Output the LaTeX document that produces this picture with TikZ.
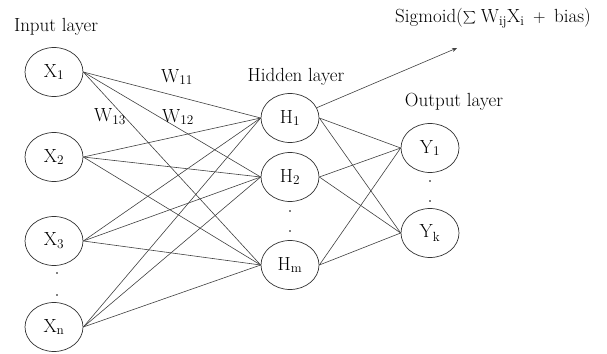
\documentclass[tikz,border=0pt]{standalone}
\usepackage{fontspec}
\usepackage{graphicx}
\usetikzlibrary{shapes.geometric,arrows.meta}
\begin{document}
\begin{tikzpicture}[x=1pt,y=-1pt,
  every node/.style={font=\fontsize{19}{22}\selectfont},
  neuron/.style={ellipse,draw=black!80,line width=0.7pt,inner sep=0pt,
                 minimum width=58pt,minimum height=49pt},
  link/.style={draw=black!75,line width=0.6pt},
  lbl/.style={inner sep=0pt},
  gap/.style={circle,fill=black,inner sep=0pt,minimum size=1.8pt}]
\useasboundingbox (0,0) rectangle (607,353);

% layer titles
\node[lbl] (tin)  at (56,27)  {Input layer};
\node[lbl] (thid) at (296,77) {Hidden layer};
\node[lbl] (tout) at (454,102) {Output layer};

% input layer
\node[neuron] (x1) at (54,72)  {$\mathrm{X_1}$};
\node[neuron] (x2) at (54,157) {$\mathrm{X_2}$};
\node[neuron] (x3) at (54,241) {$\mathrm{X_3}$};
\node[neuron] (xn) at (54,327) {$\mathrm{X_n}$};
\node[gap] (dx1) at (57,273) {};
\node[gap] (dx2) at (57,295) {};

% hidden layer
\node[neuron] (h1) at (290,118) {$\mathrm{H_1}$};
\node[neuron] (h2) at (290,177) {$\mathrm{H_2}$};
\node[neuron] (hm) at (290,265) {$\mathrm{H_m}$};
\node[gap] (dh1) at (290,211) {};
\node[gap] (dh2) at (290,231) {};

% output layer
\node[neuron] (y1) at (430,148) {$\mathrm{Y_1}$};
\node[neuron] (yk) at (430,233) {$\mathrm{Y_k}$};
\node[gap] (dy1) at (430,181) {};
\node[gap] (dy2) at (430,201) {};

% input -> hidden connections
\foreach \i in {x1,x2,x3,xn}
  \foreach \j in {h1,h2,hm}
    \draw[link] (\i.east) -- (\j.west);

% hidden -> output connections
\foreach \i in {h1,h2,hm}
  \foreach \j in {y1,yk}
    \draw[link] (\i.east) -- (\j.west);

% weight labels
\node[lbl] (w11) at (177,77)  {$\mathrm{W_{11}}$};
\node[lbl] (w12) at (178,117) {$\mathrm{W_{12}}$};
\node[lbl] (w13) at (110,117) {$\mathrm{W_{13}}$};

% activation of a hidden unit
\coordinate (sig) at (457,48);
\draw[link,-{Stealth[length=5pt,width=4pt]}] (h1.21) -- (sig);
\node[lbl,anchor=west] (act) at (395,18)
  {Sigmoid($\raisebox{-0.1ex}{\scalebox{1.25}{$\sum$}}\;\mathrm{W_{ij}X_i} \;+\; \mathrm{bias}$)};
\end{tikzpicture}
\end{document}
